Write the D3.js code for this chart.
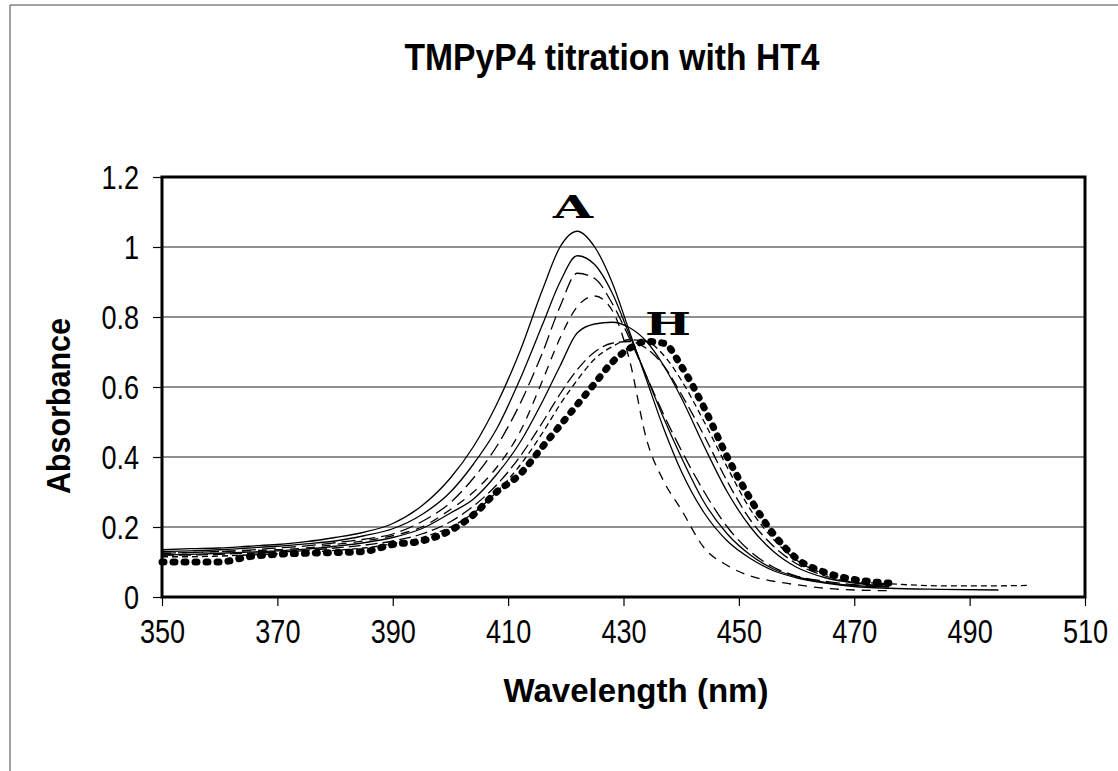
<!DOCTYPE html>
<html lang="en">
<head>
  <meta charset="UTF-8" />
  <title>TMPyP4 titration with HT4</title>
  <script src="https://d3js.org/d3.v7.min.js"></script>
  <style>
    body {
      margin: 0;
      background: #fff;
    }
    svg text {
      font-family: "Liberation Sans", Arial, sans-serif;
      fill: #000;
    }
  </style>
</head>
<body>
  <div id="chart"></div>

  <script>
    // ----- Data -----
    const wavelengths = [350, 355, 360, 365, 370, 375, 380, 385, 390, 395, 400, 404, 408, 412, 416, 419,
                         422, 425, 428, 431, 434, 437, 440, 444, 448, 452, 456, 460, 465, 470, 476, 485, 495, 500];

    const curveA = [.135, .138, .14, .145, .15, .158, .17, .185, .21, .26, .34, .43, .55, .70, .88, 1.00,
                    1.045, 1.00, .90, .76, .62, .48, .36, .24, .16, .11, .075, .055, .04, .03, .025, .022, .02, null];
    const curveB = [.13, .132, .135, .14, .145, .152, .16, .175, .195, .235, .30, .38, .48, .62, .78, .90,
                    .975, .95, .87, .75, .63, .51, .40, .27, .18, .12, .08, .058, .042, .033, .028, null, null, null];
    const curveC = [.125, .127, .13, .134, .14, .146, .155, .165, .18, .215, .27, .34, .43, .55, .70, .83,
                    .925, .91, .84, .74, .63, .52, .42, .30, .20, .13, .085, .06, .045, .035, .03, null, null, null];
    const curveD = [.125, .127, .13, .132, .135, .14, .15, .16, .175, .20, .25, .30, .37, .47, .62, .74,
                    .83, .86, .82, .68, .45, .33, .25, .14, .09, .06, .045, .035, .025, .02, .018, null, null, null];
    const curveE = [.12, .122, .125, .128, .132, .137, .145, .155, .17, .195, .24, .28, .35, .44, .56, .66,
                    .755, .78, .785, .77, .73, .66, .57, .43, .30, .20, .13, .085, .055, .04, .03, null, null, null];
    const curveF = [.12, .12, .122, .125, .128, .133, .14, .148, .16, .18, .215, .26, .32, .40, .50, .58,
                    .65, .70, .725, .73, .71, .66, .58, .46, .33, .22, .145, .095, .06, .042, .035, null, null, null];
    const curveG = [.115, .115, .117, .12, .123, .127, .133, .14, .152, .17, .20, .24, .30, .375, .47, .55,
                    .62, .68, .715, .735, .73, .69, .62, .50, .37, .25, .165, .105, .065, .045, .038, .032, .032, .033];
    const curveH = [.10, .10, .10, .115, .122, .125, .127, .13, .15, .16, .19, .235, .30, .35, .43, .49,
                    .55, .61, .67, .71, .73, .725, .66, .54, .40, .28, .18, .11, .07, .05, .04, null, null, null];

    const seriesNames = ['A', 'B', 'C', 'D', 'E', 'F', 'G', 'H'];
    const seriesValues = [curveA, curveB, curveC, curveD, curveE, curveF, curveG, curveH];

    const xTicks = [350, 370, 390, 410, 430, 450, 470, 490, 510];
    const yTicks = [0, 0.2, 0.4, 0.6, 0.8, 1, 1.2];

    // ----- Setup SVG -----
    const width = 1118, height = 771;
    const plot = { left: 162, right: 1085, top: 177, bottom: 597 };

    const svg = d3.select('#chart')
      .append('svg')
      .attr('width', width)
      .attr('height', height);

    svg.append('rect')
      .attr('width', width).attr('height', height)
      .attr('fill', '#fff');

    // outer chart frame (only top + left edges are inside the scan)
    svg.append('path')
      .attr('d', `M10,${height} L10,5 L${width},5`)
      .attr('fill', 'none')
      .attr('stroke', '#444')
      .attr('stroke-width', 1);

    // ----- Scales -----
    const x = d3.scaleLinear().domain([350, 510]).range([plot.left, plot.right]);
    const y = d3.scaleLinear().domain([0, 1.2]).range([plot.bottom, plot.top]);

    // ----- Gridlines -----
    svg.append('g')
      .selectAll('line')
      .data(yTicks.filter(t => t > 0 && t < 1.2))
      .join('line')
      .attr('x1', plot.left).attr('x2', plot.right)
      .attr('y1', d => y(d)).attr('y2', d => y(d))
      .attr('stroke', '#222')
      .attr('stroke-width', 1.2);

    // ----- Axes -----
    const xAxis = svg.append('g')
      .attr('transform', `translate(0,${plot.bottom})`)
      .call(d3.axisBottom(x).tickValues(xTicks).tickSize(9).tickPadding(14).tickFormat(d3.format('d')));
    const yAxis = svg.append('g')
      .attr('transform', `translate(${plot.left},0)`)
      .call(d3.axisLeft(y).tickValues(yTicks).tickSize(9).tickPadding(14).tickFormat(d => d3.format('~g')(d)));

    // narrow, tall tick labels like the original (condensed Arial)
    [xAxis, yAxis].forEach(ax => {
      ax.select('.domain').remove();
      ax.selectAll('line').attr('stroke', '#000').attr('stroke-width', 1.2);
      ax.selectAll('text')
        .attr('font-size', '33px')
        .attr('fill', '#000')
        .each(function () {
          const w = this.getComputedTextLength();
          d3.select(this)
            .attr('textLength', w * 0.82)
            .attr('lengthAdjust', 'spacingAndGlyphs');
        });
    });
    yAxis.selectAll('text').attr('dy', '0.36em');

    // ----- Curves -----
    const line = d3.line()
      .defined(d => d[1] != null)
      .x(d => x(d[0]))
      .y(d => y(d[1]))
      .curve(d3.curveMonotoneX);

    const styles = {
      A: { w: 1.3, dash: null },
      B: { w: 1.3, dash: null },
      C: { w: 1.3, dash: '14,6' },
      D: { w: 1.3, dash: '9,7' },
      E: { w: 1.3, dash: null },
      F: { w: 1.3, dash: '12,5' },
      G: { w: 1.3, dash: '6,4' },
      H: { w: 7, dash: '2,9', cap: 'round' }
    };

    seriesNames.forEach((name, i) => {
      const pts = wavelengths.map((w, j) => [w, seriesValues[i][j]]);
      const s = styles[name];
      svg.append('path')
        .datum(pts)
        .attr('d', line)
        .attr('fill', 'none')
        .attr('stroke', '#000')
        .attr('stroke-width', s.w)
        .attr('stroke-dasharray', s.dash)
        .attr('stroke-linecap', s.cap || 'butt');
    });

    // ----- Plot border -----
    svg.append('rect')
      .attr('x', plot.left).attr('y', plot.top)
      .attr('width', plot.right - plot.left)
      .attr('height', plot.bottom - plot.top)
      .attr('fill', 'none')
      .attr('stroke', '#000')
      .attr('stroke-width', 3);

    // ----- Curve labels -----
    svg.append('text')
      .attr('x', 573).attr('y', 218)
      .attr('text-anchor', 'middle')
      .style('font-family', '"DejaVu Serif", serif')
      .attr('font-weight', 'bold')
      .attr('font-size', '32px')
      .attr('textLength', 40)
      .attr('lengthAdjust', 'spacingAndGlyphs')
      .text('A');
    svg.append('text')
      .attr('x', 668).attr('y', 335)
      .attr('text-anchor', 'middle')
      .style('font-family', '"DejaVu Serif", serif')
      .attr('font-weight', 'bold')
      .attr('font-size', '32px')
      .attr('textLength', 46)
      .attr('lengthAdjust', 'spacingAndGlyphs')
      .text('H');

    // ----- Titles -----
    svg.append('text')
      .attr('x', 612).attr('y', 70)
      .attr('text-anchor', 'middle')
      .attr('font-weight', 'bold')
      .attr('font-size', '37px')
      .attr('textLength', 415)
      .attr('lengthAdjust', 'spacingAndGlyphs')
      .text('TMPyP4 titration with HT4');

    svg.append('text')
      .attr('x', 636).attr('y', 702)
      .attr('text-anchor', 'middle')
      .attr('font-weight', 'bold')
      .attr('font-size', '33px')
      .attr('textLength', 265)
      .attr('lengthAdjust', 'spacingAndGlyphs')
      .text('Wavelength (nm)');

    svg.append('text')
      .attr('transform', 'translate(70,406) rotate(-90)')
      .attr('text-anchor', 'middle')
      .attr('font-weight', 'bold')
      .attr('font-size', '33px')
      .attr('textLength', 176)
      .attr('lengthAdjust', 'spacingAndGlyphs')
      .text('Absorbance');
  </script>
</body>
</html>
